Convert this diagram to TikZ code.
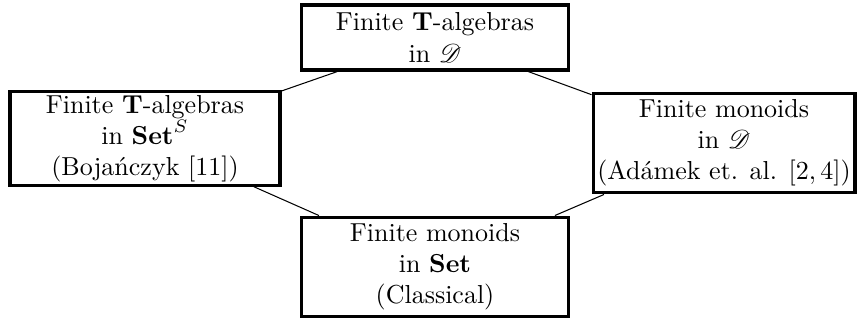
\documentclass[tikz,border=0pt]{standalone}
\usepackage{amsmath, amssymb, mathrsfs}
\usepackage{tikz}
\usetikzlibrary{positioning}
\tikzset{
    catbox/.style={rectangle, draw, very thick, align=center, inner sep=1pt, minimum width=3.6cm},
    link/.style={thin}
}

\begin{document}
\begin{tikzpicture}[x=0.01352cm, y=-0.01352cm]
        \useasboundingbox (0,0) rectangle (858,320);

        % the four categories
        \node (AlgD) [catbox, minimum height=0.88cm] at (435, 37.5) {Finite $\mathbf{T}$-algebras \\ in $\mathscr{D}$};
        \node (AlgSet) [catbox, minimum width=3.65cm, minimum height=1.26cm] at (145, 138.5) {Finite $\mathbf{T}$-algebras \\ in $\mathbf{Set}^S$ \\ (Bojańczyk [11])};
        \node (MonD) [catbox, minimum width=3.54cm, minimum height=1.35cm] at (724, 143) {Finite monoids \\ in $\mathscr{D}$ \\ (Adámek et. al. $[2,4]$)};
        \node (MonSet) [catbox, minimum height=1.35cm] at (435, 267) {Finite monoids \\ in $\mathbf{Set}$ \\ (Classical)};

        % connections
        \draw[link] (AlgD) -- (AlgSet);
        \draw[link] (AlgD) -- (MonD);
        \draw[link] (AlgSet) -- (MonSet);
        \draw[link] (MonD) -- (MonSet);

    \end{tikzpicture}
\end{document}
